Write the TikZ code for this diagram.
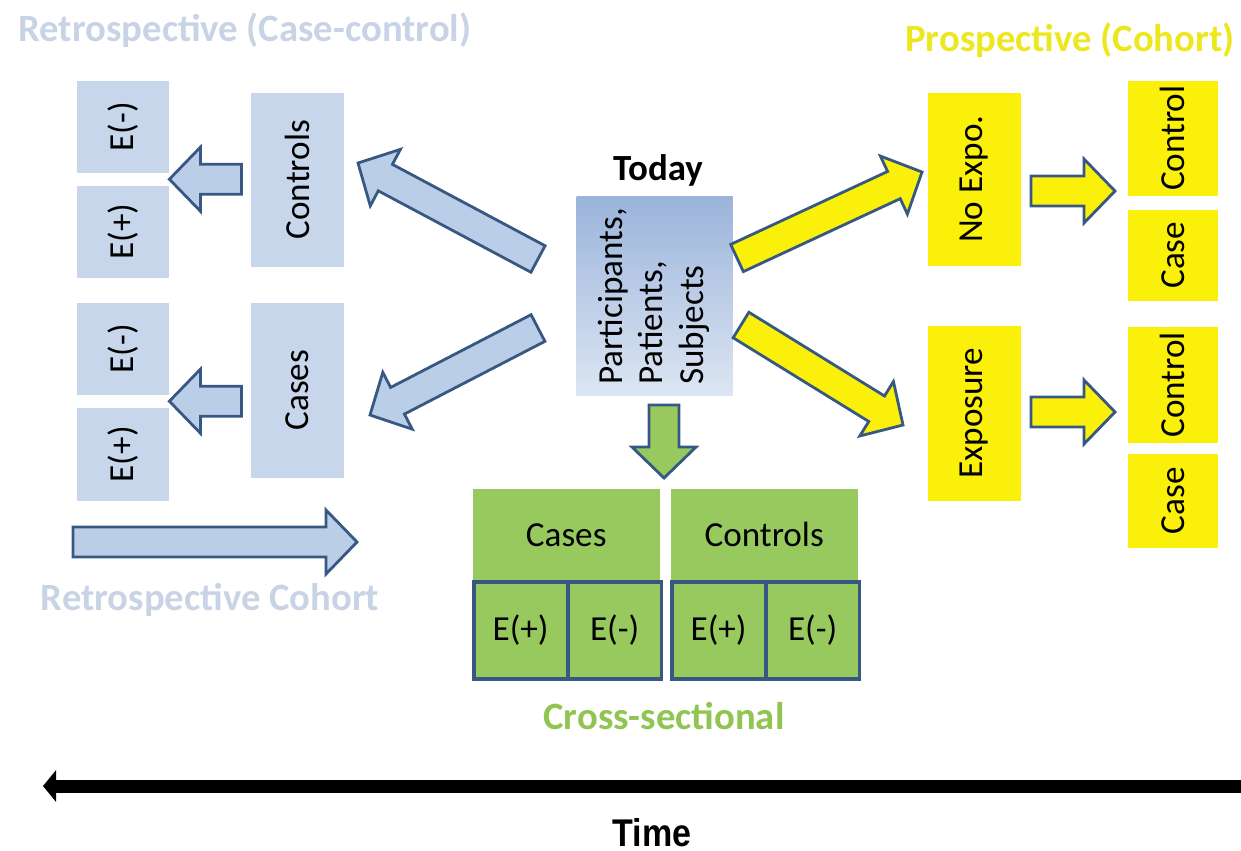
\documentclass[tikz,border=0pt]{standalone}
\usepackage{fontspec}
\setmainfont{Carlito}
\newfontfamily\timefont{Liberation Sans}
\usetikzlibrary{positioning,calc,arrows.meta}

\definecolor{retrobox}{RGB}{200,214,235}
\definecolor{retroarrow}{RGB}{187,206,231}
\definecolor{retrotitle}{RGB}{200,211,229}
\definecolor{edgeblue}{RGB}{56,88,132}
\definecolor{prosyellow}{RGB}{250,240,10}
\definecolor{prostitle}{RGB}{236,231,30}
\definecolor{crossgreen}{RGB}{152,201,94}
\definecolor{crosstitle}{RGB}{146,196,82}
\definecolor{todaytop}{RGB}{155,180,219}
\definecolor{todaybot}{RGB}{221,230,243}

\newcommand{\vtext}[1]{\rotatebox{90}{#1}}

% block arrow, fill #1, from tail #2 to tip #3
\newcommand{\fatarrow}[3]{%
  \coordinate (hb) at ($(#3)!3.1mm!(#2)$);
  \filldraw[fill=#1, draw=edgeblue, line width=0.28mm, line join=miter]
    ($(#2)!1.5mm!90:(#3)$) -- ($(hb)!1.5mm!90:(#3)$) -- ($(hb)!3.2mm!90:(#3)$)
    -- (#3) -- ($(hb)!3.2mm!-90:(#3)$) -- ($(hb)!1.5mm!-90:(#3)$)
    -- ($(#2)!1.5mm!-90:(#3)$) -- cycle;}

\begin{document}
\begin{tikzpicture}[x=0.1mm, y=-0.1mm, font=\fontsize{10}{12}\selectfont,
  box/.style={rectangle, anchor=north west, inner sep=0pt, minimum width=9.2mm},
  retro/.style={box, fill=retrobox},
  pros/.style={box, fill=prosyellow},
  cross/.style={rectangle, anchor=north west, inner sep=0pt, fill=crossgreen, minimum height=9.2mm},
  expcell/.style={cross, draw=edgeblue, line width=0.38mm, minimum width=9.35mm, minimum height=9.7mm},
  heading/.style={font=\fontsize{11}{13}\selectfont\bfseries}]

\useasboundingbox (0,0) rectangle (1241,850);

% retrospective (case-control) side
\node[heading, text=retrotitle] (tretro) at (245,30) {Retrospective (Case-control)};
\node[retro, minimum height=9.2mm] (em1) at (76,80) {\vtext{E(-)}};
\node[retro, minimum height=9.2mm] (ep1) at (76,185) {\vtext{E(+)}};
\node[retro, minimum width=9.3mm, minimum height=17.4mm] (ctl) at (250,92) {\vtext{Controls}};
\node[retro, minimum height=9.2mm] (em2) at (76,302) {\vtext{E(-)}};
\node[retro, minimum height=9.3mm] (ep2) at (76,407) {\vtext{E(+)}};
\node[retro, minimum width=9.3mm, minimum height=17.5mm] (cas) at (250,302) {\vtext{Cases}};
\node[heading, text=retrotitle] (tcohort) at (210,600) {Retrospective Cohort};

% today
\node[heading, font=\fontsize{10.5}{12}\selectfont\bfseries] (ttoday) at (658,170) {Today};
\node[box, minimum width=15.6mm, minimum height=19.9mm, top color=todaytop, bottom color=todaybot] (today) at (576,196)
  {\vtext{\fontsize{10}{11.6}\selectfont\begin{tabular}{@{}l@{}}Participants,\\Patients,\\Subjects\end{tabular}}};

% cross-sectional
\node[cross, minimum width=18.7mm] (gcas) at (472,488) {Cases};
\node[cross, minimum width=18.7mm] (gctl) at (670,488) {Controls};
\node[expcell] (gcp) at (472,580) {E(+)};
\node[expcell] (gcm) at (566,580) {E(-)};
\node[expcell] (gtp) at (670,580) {E(+)};
\node[expcell] (gtm) at (764,580) {E(-)};
\node[heading, text=crosstitle] (tcross) at (664,716) {Cross-sectional};

% prospective (cohort) side
\node[heading, text=prostitle] (tpros) at (1070,40) {Prospective (Cohort)};
\node[pros, minimum width=9.3mm, minimum height=17.3mm] (noexp) at (927,92) {\vtext{No Expo.}};
\node[pros, minimum width=9.3mm, minimum height=17.5mm] (expo) at (927,325) {\vtext{Exposure}};
\node[pros, minimum width=9.0mm, minimum height=11.5mm] (ctlA) at (1127,80) {\vtext{Control}};
\node[pros, minimum width=9.0mm, minimum height=9.1mm] (caseA) at (1127,209) {\vtext{Case}};
\node[pros, minimum width=9.0mm, minimum height=11.6mm] (ctlB) at (1127,326) {\vtext{Control}};
\node[pros, minimum width=9.0mm, minimum height=9.4mm] (caseB) at (1127,453) {\vtext{Case}};

% arrow ends
\coordinate (sa-tip) at ($(em1.south east)!0.5!(ep1.north east)$);
\coordinate (sa-tail) at ($(sa-tip)+(72,0)$);
\coordinate (sb-tip) at ($(em2.south east)!0.5!(ep2.north east)$);
\coordinate (sb-tail) at ($(sb-tip)+(72,0)$);
\coordinate (ul-tail) at (538,259);
\coordinate (ul-tip) at (358,163);
\coordinate (ll-tail) at (538,328);
\coordinate (ll-tip) at (370,415);
\coordinate (ur-tail) at (737,258);
\coordinate (ur-tip) at (922,172);
\coordinate (lr-tail) at (741,325);
\coordinate (lr-tip) at (903,425);
\coordinate (rc-tail) at (73,542);
\coordinate (rc-tip) at (357,542);
\coordinate (gd-tail) at (664,405);
\coordinate (gd-tip) at (664,478);
\coordinate (ya-tail) at (1031,191);
\coordinate (ya-tip) at (1115,191);
\coordinate (yb-tail) at (1031,412);
\coordinate (yb-tip) at (1115,412);

\fatarrow{retroarrow}{sa-tail}{sa-tip}
\fatarrow{retroarrow}{sb-tail}{sb-tip}
\fatarrow{retroarrow}{ul-tail}{ul-tip}
\fatarrow{retroarrow}{ll-tail}{ll-tip}
\fatarrow{retroarrow}{rc-tail}{rc-tip}
\fatarrow{crossgreen}{gd-tail}{gd-tip}
\fatarrow{prosyellow}{ur-tail}{ur-tip}
\fatarrow{prosyellow}{lr-tail}{lr-tip}
\fatarrow{prosyellow}{ya-tail}{ya-tip}
\fatarrow{prosyellow}{yb-tail}{yb-tip}

% time axis
\coordinate (time-r) at (1241,786);
\coordinate (time-l) at (43,786);
\draw[line width=1.3mm, -{Triangle[length=1.3mm, width=3.1mm]}] (time-r) -- (time-l);
\node[font=\timefont\bfseries\fontsize{11}{13}\selectfont] (ttime) at (652,833) {\scalebox{0.88}[1]{Time}};

\end{tikzpicture}
\end{document}
